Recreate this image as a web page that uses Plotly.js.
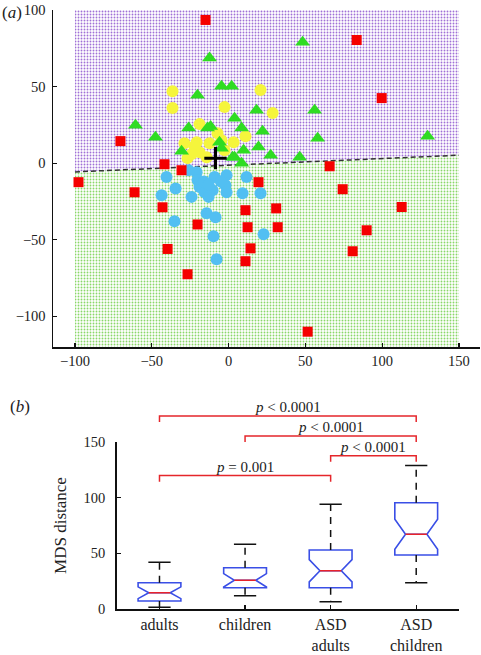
<!DOCTYPE html>
<html>
<head>
<meta charset="utf-8">
<script src="https://cdn.plot.ly/plotly-3.0.1.min.js"></script>
<style>html,body{margin:0;padding:0;background:#fff;}#chart{width:481px;height:655px;}</style>
</head>
<body>
<div id="chart"></div>
<script>
// ---------- Panel (a): MDS scatter ----------
var redX = [-15, 83.4, 99.7, -70.4, -41.7, -30.6, -97.7, -61.2, -43, -20.2, -39.7, -26.7, 65.8, 19.5, 74.3, 112.7, 11, 31, 12.4, 32, 89.9, 14.3, 80.8, 11, 51.5];
var redY = [93.5, 80.4, 42.5, 14.4, -0.7, -4.6, -12.4, -19, -28.8, -40, -56, -72.5, -2, -12.4, -17, -28.6, -30.7, -29.5, -41.8, -41.8, -43.8, -55.6, -57.5, -64, -110];

var blueX = [-40.4, -34.5, -43.6, -24.1, -20.8, -20.2, -18.9, -15.6, -13, -9.1, -10.4, -1.3, -2, -1.3, 11.7, 9.1, 20.8, -35.2, -14.3, -8.5, -9.8, 22.8, -7.8, -26, -16, -5, -13];
var blueY = [-9, -16.5, -21, -22, -5.9, -11, -15.5, -19, -22, -9, -17.6, -7.8, -14.4, -19, -9, -19.6, -19.6, -37.9, -32.7, -35.3, -47.7, -46.4, -62.7, -4.6, -12, -12, -14];

var yellowX = [-36.5, -36.5, -2.6, -18.9, 20.8, 28.7, 11, 3.3, -28.7, -20.8, -12.4, -7.2, -26.7, -14.3, -18.9, -2.6, -22, -24, -4.6];
var yellowY = [47, 36, 36.6, 25.5, 47.7, 32.7, 17.6, 13.7, 13, 13.7, 13, 19.6, 3.3, 3.9, 7.2, 8.5, 11, 6, 15];

var greenX = [-12.4, -4.6, 2, -20.2, -60.6, -47.6, -26, -11.7, 3.9, -30.6, -5.9, -4.6, 3.9, 48.2, 18.2, 56, 8.5, 22.1, 58, 129.6, 19.5, 9.8, 27.4, 46.3, 8.5, 2.6, -13.7];
var greenY = [68.6, 50.3, 50.3, 44.4, 24.8, 17, 22.9, 24, 29.4, 7.8, 13.7, 9.8, 3.9, 79, 34.6, 34.6, 22.9, 20.9, 16.3, 17.6, 10.5, 8.5, 5.2, 3.9, 0, 3.9, 23];

var centreX = [-8.5];
var centreY = [3.3];

// decision boundary (dashed line) and the extent of the shaded region
var boundaryX = [-100, 150];
var boundaryY = [-5.7, 5.2];
var regionYTop = 100;
var regionYBottom = -120;

// ---------- Panel (b): box plot ----------
var categories = ['adults', 'children', 'ASD<br>adults', 'ASD<br>children'];
var q1 = [7.2, 19.1, 19.1, 48.5];
var median = [14.6, 25.8, 34.4, 67.1];
var q3 = [23.6, 37.1, 53, 95.5];
var lowerWhisker = [1.5, 12, 6.6, 23.6];
var upperWhisker = [42, 58.1, 94, 128.8];
var notchSpan = [5.3, 6, 10, 13.5];

// significance brackets
var compFrom = [0, 1, 2, 0];
var compTo = [3, 3, 3, 2];
var bracketY = [173.4, 155.4, 137.7, 119.9];
var pLabels = ['<i>p</i> < 0.0001', '<i>p</i> < 0.0001', '<i>p</i> < 0.0001', '<i>p</i> = 0.001'];

// ---------- build ----------
var serif = 'Liberation Serif, Times New Roman, serif';
var txtCol = '#222';
var traces = [];

// shaded regions
traces.push({
  type: 'scatter', mode: 'lines', xaxis: 'x', yaxis: 'y', hoverinfo: 'skip',
  x: [boundaryX[0], boundaryX[1], boundaryX[1], boundaryX[0], boundaryX[0]],
  y: [boundaryY[0], boundaryY[1], regionYTop, regionYTop, boundaryY[0]],
  fill: 'toself', line: {width: 0},
  fillcolor: 'rgba(0,0,0,0)',
  fillpattern: {shape: '.', fgcolor: '#a070d6', bgcolor: '#ffffff', size: 3, solidity: 0.3}
});
traces.push({
  type: 'scatter', mode: 'lines', xaxis: 'x', yaxis: 'y', hoverinfo: 'skip',
  x: [boundaryX[0], boundaryX[1], boundaryX[1], boundaryX[0], boundaryX[0]],
  y: [boundaryY[0], boundaryY[1], regionYBottom, regionYBottom, boundaryY[0]],
  fill: 'toself', line: {width: 0},
  fillcolor: 'rgba(0,0,0,0)',
  fillpattern: {shape: '.', fgcolor: '#8ad868', bgcolor: '#ffffff', size: 3, solidity: 0.3}
});
traces.push({
  type: 'scatter', mode: 'lines', xaxis: 'x', yaxis: 'y',
  x: boundaryX, y: boundaryY, line: {color: '#333', width: 1.5, dash: '5px,3px'}
});
traces.push({type: 'scatter', mode: 'markers', xaxis: 'x', yaxis: 'y', x: blueX, y: blueY,
  marker: {symbol: 'circle', size: 12, color: '#52bff2', line: {width: 0}}});
traces.push({type: 'scatter', mode: 'markers', xaxis: 'x', yaxis: 'y', x: yellowX, y: yellowY,
  marker: {symbol: 'circle', size: 12, color: '#f5f53c', line: {width: 0}}});
traces.push({type: 'scatter', mode: 'markers', xaxis: 'x', yaxis: 'y', x: greenX, y: greenY,
  marker: {symbol: 'triangle-up', size: 13, color: '#2fdc22', line: {width: 0}}});
traces.push({type: 'scatter', mode: 'markers', xaxis: 'x', yaxis: 'y', x: redX, y: redY,
  marker: {symbol: 'square', size: 10, color: '#f50000', line: {width: 0}}});
traces.push({type: 'scatter', mode: 'markers', xaxis: 'x', yaxis: 'y', x: centreX, y: centreY,
  marker: {symbol: 'cross-thin', size: 16, color: '#000', line: {width: 3, color: '#000'}}});

// boxes
var catPos = categories.map(function (c, i) { return i; });
traces.push({
  type: 'box', xaxis: 'x2', yaxis: 'y2', x: catPos,
  q1: q1, median: median, q3: q3, lowerfence: q1, upperfence: q3,
  notched: true, notchspan: notchSpan, notchwidth: 0.25,
  width: 0.5, whiskerwidth: 0, boxpoints: false,
  line: {color: '#3a4fe6', width: 1.6}, fillcolor: 'rgba(0,0,0,0)', hoverinfo: 'skip'
});
// whiskers (dashed)
var wx = [], wy = [], cx = [], cy = [], mx = [], my = [];
catPos.forEach(function (p, i) {
  wx.push(p, p, null, p, p, null);
  wy.push(q3[i], upperWhisker[i], null, q1[i], lowerWhisker[i], null);
  cx.push(p - 0.13, p + 0.13, null, p - 0.13, p + 0.13, null);
  cy.push(upperWhisker[i], upperWhisker[i], null, lowerWhisker[i], lowerWhisker[i], null);
  mx.push(p - 0.125, p + 0.125, null);
  my.push(median[i], median[i], null);
});
traces.push({type: 'scatter', mode: 'lines', xaxis: 'x2', yaxis: 'y2', x: wx, y: wy,
  line: {color: '#111', width: 1.5, dash: '7px,6px'}, connectgaps: false});
traces.push({type: 'scatter', mode: 'lines', xaxis: 'x2', yaxis: 'y2', x: cx, y: cy,
  line: {color: '#111', width: 1.5}, connectgaps: false});
traces.push({type: 'scatter', mode: 'lines', xaxis: 'x2', yaxis: 'y2', x: mx, y: my,
  line: {color: '#e8232a', width: 1.6}, connectgaps: false});

// brackets
var bx = [], by = [];
var legDrop = 5.5;
compFrom.forEach(function (a, i) {
  var b = compTo[i];
  bx.push(a, a, b, b, null);
  by.push(bracketY[i] - legDrop, bracketY[i], bracketY[i], bracketY[i] - legDrop, null);
});
traces.push({type: 'scatter', mode: 'lines', xaxis: 'x3', yaxis: 'y3', x: bx, y: by,
  line: {color: '#e5262b', width: 1.5}, connectgaps: false, hoverinfo: 'skip'});

var annotations = compFrom.map(function (a, i) {
  return {xref: 'x3', yref: 'y3', x: (a + compTo[i]) / 2, y: bracketY[i] + 8,
    text: pLabels[i], showarrow: false, xanchor: 'center', yanchor: 'middle',
    font: {family: serif, size: 15, color: txtCol}};
});
annotations.push({xref: 'paper', yref: 'paper', x: 0, y: 1 - 12 / 655, xanchor: 'left', yanchor: 'middle',
  text: '(<i>a</i>)', showarrow: false, font: {family: serif, size: 17, color: txtCol}});
annotations.push({xref: 'paper', yref: 'paper', x: 8 / 481, y: 1 - 407 / 655, xanchor: 'left', yanchor: 'middle',
  text: '(<i>b</i>)', showarrow: false, font: {family: serif, size: 17, color: txtCol}});

var axCommon = {showline: true, linecolor: '#111', linewidth: 1.5, ticks: 'inside', ticklen: 4,
  tickcolor: '#111', tickwidth: 1.2, showgrid: false, zeroline: false,
  tickfont: {family: serif, size: 14.5, color: txtCol}};

function ax(extra) { return Object.assign({}, axCommon, extra); }

var layout = {
  width: 481, height: 655,
  margin: {l: 0, r: 0, t: 0, b: 0},
  paper_bgcolor: '#fff', plot_bgcolor: 'rgba(0,0,0,0)',
  showlegend: false,
  xaxis: ax({domain: [53 / 481, 480 / 481], range: [-114.3, 163.7], anchor: 'y',
    tickvals: [-100, -50, 0, 50, 100, 150], ticklabelstandoff: 0}),
  yaxis: ax({domain: [1 - 347 / 655, 1 - 10 / 655], range: [-120, 100], anchor: 'x',
    tickvals: [-100, -50, 0, 50, 100], ticklabelstandoff: 3}),
  xaxis2: ax({domain: [116.7 / 481, 459 / 481], range: [-0.5, 3.5], anchor: 'y2',
    tickvals: catPos, ticktext: categories, ticklabelstandoff: 0,
    tickfont: {family: serif, size: 16, color: txtCol}}),
  yaxis2: ax({domain: [1 - 609 / 655, 1 - 442 / 655], range: [0, 150], anchor: 'x2',
    tickvals: [0, 50, 100, 150], ticklabelstandoff: 7,
    title: {text: 'MDS distance', font: {family: serif, size: 17, color: txtCol}, standoff: 12}}),
  xaxis3: {domain: [116.7 / 481, 459 / 481], range: [-0.5, 3.5], anchor: 'y3', visible: false},
  yaxis3: {domain: [1 - 609 / 655, 1 - 395 / 655], range: [0, (609 - 395) / (167 / 150)], anchor: 'x3', visible: false},
  annotations: annotations
};

Plotly.newPlot('chart', traces, layout, {staticPlot: true, displayModeBar: false});
</script>
</body>
</html>
